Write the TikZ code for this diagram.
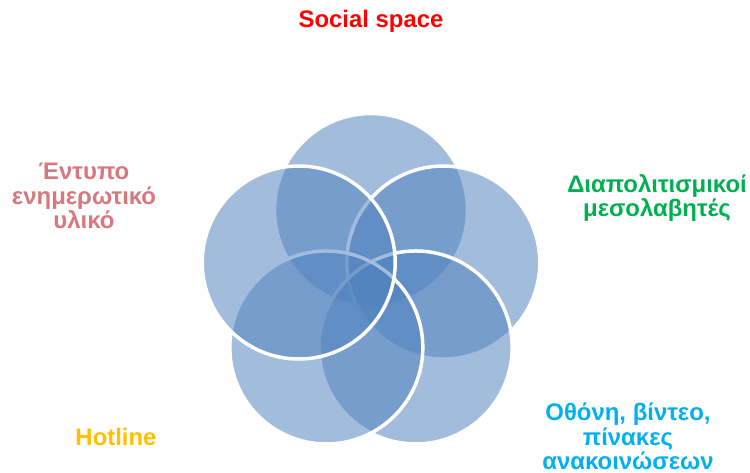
\documentclass[tikz,border=0pt]{standalone}
\usepackage{fontspec}
\setmainfont{Liberation Sans}
\usepackage{tikz}
\usetikzlibrary{calc}
\definecolor{petalBlue}{RGB}{79,129,189}
\definecolor{socialRed}{RGB}{255,0,0}
\definecolor{printRose}{RGB}{214,120,125}
\definecolor{mediatorGreen}{RGB}{0,176,80}
\definecolor{hotlineYellow}{RGB}{255,192,0}
\definecolor{screenBlue}{RGB}{0,176,240}
\tikzstyle{petal}=[circle, inner sep=0pt, minimum size=193bp,
  fill=petalBlue, fill opacity=0.53, draw=white, draw opacity=1,
  line width=3.5bp]
\tikzstyle{caption}=[anchor=base, align=center, inner sep=0pt,
  font=\bfseries\fontsize{24}{25}\selectfont]

\begin{document}
\begin{tikzpicture}[x=1bp, y=1bp]
      \useasboundingbox (0,0) rectangle (750,473);
      \coordinate (mid) at (371,187);

      % five overlapping circles, drawn clockwise from the top
      \foreach \a/\n in {90/c1, 18/c2, 306/c3, 234/c4, 162/c5}
      \node[petal] (\n) at ($(mid)+(\a:76)$) {};

      \node[caption, text=socialRed] (social) at (371,445) {Social space};
      \node[caption, text=printRose] (print) at (84,244)
        {Έντυπο\\ενημερωτικό\\υλικό};
      \node[caption, text=mediatorGreen] (mediators) at (657,256)
        {Διαπολιτισμικοί\\μεσολαβητές};
      \node[caption, text=hotlineYellow] (hotline) at (116,27) {Hotline};
      \node[caption, text=screenBlue] (screens) at (628,3)
        {Οθόνη, βίντεο,\\πίνακες\\ανακοινώσεων};
    \end{tikzpicture}
\end{document}
